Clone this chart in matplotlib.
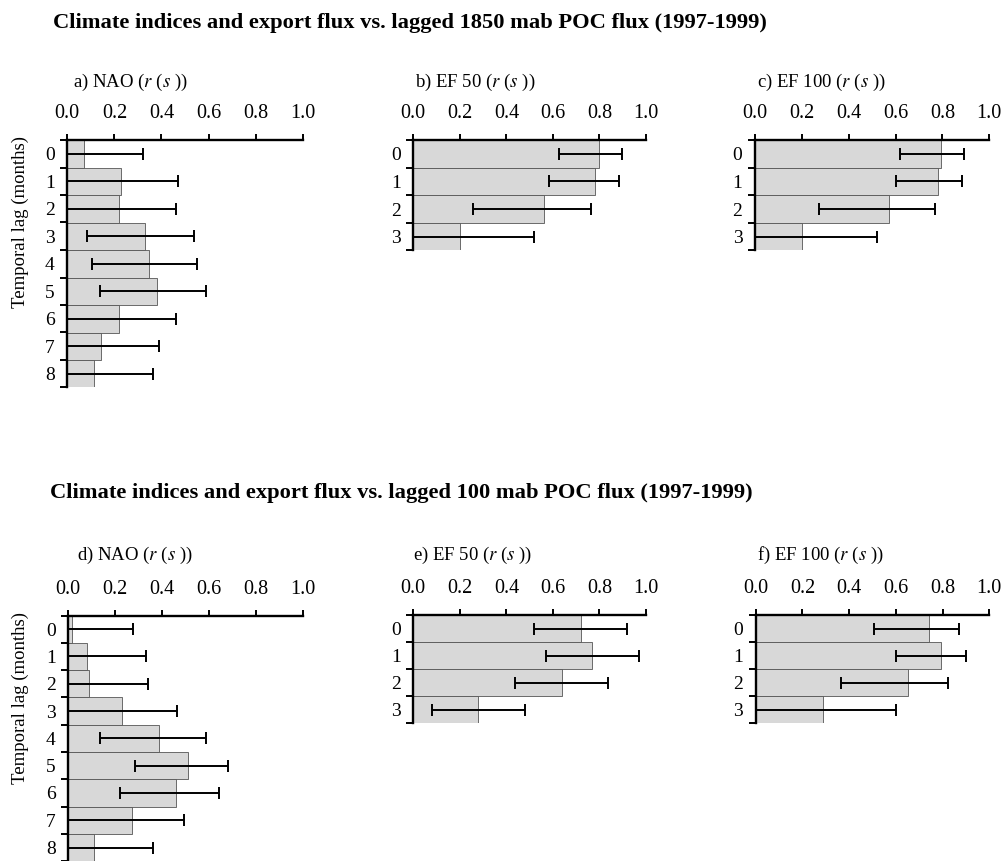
import numpy as np
import matplotlib
matplotlib.use("Agg")
import matplotlib.pyplot as plt

plt.rcParams['font.family'] = 'serif'
plt.rcParams['font.serif'] = ['Liberation Serif', 'DejaVu Serif']
plt.rcParams['mathtext.fontset'] = 'stix'

# Spearman correlations r(s) with confidence limits, by temporal lag (months)
lags_nao = [0, 1, 2, 3, 4, 5, 6, 7, 8]
lags_ef = [0, 1, 2, 3]

# 1850 mab POC flux
nao_1850 = [0.07, 0.23, 0.22, 0.33, 0.345, 0.38, 0.22, 0.145, 0.115]
nao_1850_lo = [0.0, 0.0, 0.0, 0.085, 0.105, 0.14, 0.0, 0.0, 0.0]
nao_1850_hi = [0.32, 0.47, 0.46, 0.54, 0.55, 0.59, 0.46, 0.39, 0.365]

ef50_1850 = [0.80, 0.78, 0.56, 0.20]
ef50_1850_lo = [0.625, 0.585, 0.255, 0.0]
ef50_1850_hi = [0.895, 0.885, 0.765, 0.52]

ef100_1850 = [0.795, 0.78, 0.57, 0.20]
ef100_1850_lo = [0.62, 0.60, 0.275, 0.0]
ef100_1850_hi = [0.89, 0.885, 0.77, 0.52]

# 100 mab POC flux
nao_100 = [0.017, 0.078, 0.09, 0.23, 0.385, 0.51, 0.46, 0.27, 0.11]
nao_100_lo = [0.0, 0.0, 0.0, 0.0, 0.135, 0.285, 0.22, 0.0, 0.0]
nao_100_hi = [0.277, 0.332, 0.341, 0.463, 0.588, 0.68, 0.642, 0.495, 0.36]

ef50_100 = [0.72, 0.77, 0.64, 0.28]
ef50_100_lo = [0.52, 0.57, 0.437, 0.08]
ef50_100_hi = [0.92, 0.97, 0.835, 0.48]

ef100_100 = [0.74, 0.795, 0.65, 0.29]
ef100_100_lo = [0.508, 0.60, 0.365, 0.0]
ef100_100_hi = [0.871, 0.90, 0.823, 0.60]

W, H = 1003, 861
fig = plt.figure(figsize=(W / 100, H / 100), dpi=100)


def px_axes(x0, x1, y0, y1):
    return fig.add_axes([x0 / W, 1 - y1 / H, (x1 - x0) / W, (y1 - y0) / H])


def panel(x0, x1, top, row_h, lags, r, lo, hi, label, lab_x, lab_y):
    n = len(lags)
    ax = px_axes(x0, x1, top, top + n * row_h)
    y = np.arange(n) + 0.5
    r = np.array(r)
    ax.barh(y, r, height=1.0, color='#d8d8d8', edgecolor='#555555', linewidth=0.6)
    ax.errorbar(r, y, xerr=[r - np.array(lo), np.array(hi) - r], fmt='none',
                ecolor='black', elinewidth=1.4, capsize=4.3, capthick=1.4)
    ax.set_xlim(0, 1)
    ax.set_ylim(n, 0)
    ax.xaxis.tick_top()
    ax.set_xticks(np.arange(0, 1.01, 0.2))
    ax.set_xticklabels(['%.1f' % v for v in np.arange(0, 1.01, 0.2)])
    ax.tick_params(axis='x', length=4, width=1.4, pad=8, labelsize=14.5)
    ax.set_yticks(np.arange(n + 1))
    ax.set_yticklabels([])
    ax.set_yticks(y, minor=True)
    ax.set_yticklabels([str(v) for v in lags], minor=True)
    ax.tick_params(axis='y', which='major', length=5, width=1.4, direction='out')
    ax.tick_params(axis='y', which='minor', length=0, pad=9, labelsize=14)
    for s in ['bottom', 'right']:
        ax.spines[s].set_visible(False)
    for s in ['top', 'left']:
        ax.spines[s].set_linewidth(1.7)
    fig.text(lab_x / W, 1 - lab_y / H, label, fontsize=13.5, va='center', ha='left')
    return ax


# upper row: lagged 1850 mab POC flux
fig.text(53 / W, 1 - 23 / H,
         'Climate indices and export flux vs. lagged 1850 mab POC flux (1997-1999)',
         fontsize=16.2, fontweight='bold', va='center', ha='left')
panel(67.3, 302.7, 140, 27.5, lags_nao, nao_1850, nao_1850_lo, nao_1850_hi,
      'a) NAO ($r$ ($s$ ))', 72.7, 82)
panel(413.3, 646, 140, 27.6, lags_ef, ef50_1850, ef50_1850_lo, ef50_1850_hi,
      'b) EF 50 ($r$ ($s$ ))', 415, 82)
panel(755, 989.3, 140, 27.6, lags_ef, ef100_1850, ef100_1850_lo, ef100_1850_hi,
      'c) EF 100 ($r$ ($s$ ))', 756.7, 82)
fig.text(20 / W, 1 - 222 / H, 'Temporal lag (months)', rotation=90,
         fontsize=13.5, va='center', ha='center')

# lower row: lagged 100 mab POC flux
fig.text(50 / W, 1 - 493 / H,
         'Climate indices and export flux vs. lagged 100 mab POC flux (1997-1999)',
         fontsize=16.2, fontweight='bold', va='center', ha='left')
panel(68.3, 302.7, 615.5, 27.3, lags_nao, nao_100, nao_100_lo, nao_100_hi,
      'd) NAO ($r$ ($s$ ))', 76.7, 555)
panel(413.3, 646, 615, 27.0, lags_ef, ef50_100, ef50_100_lo, ef50_100_hi,
      'e) EF 50 ($r$ ($s$ ))', 413.3, 555)
panel(755.7, 989.3, 615, 27.0, lags_ef, ef100_100, ef100_100_lo, ef100_100_hi,
      'f) EF 100 ($r$ ($s$ ))', 756.7, 555)
fig.text(20 / W, 1 - 698 / H, 'Temporal lag (months)', rotation=90,
         fontsize=13.5, va='center', ha='center')

fig.savefig('out.png', dpi=100)
